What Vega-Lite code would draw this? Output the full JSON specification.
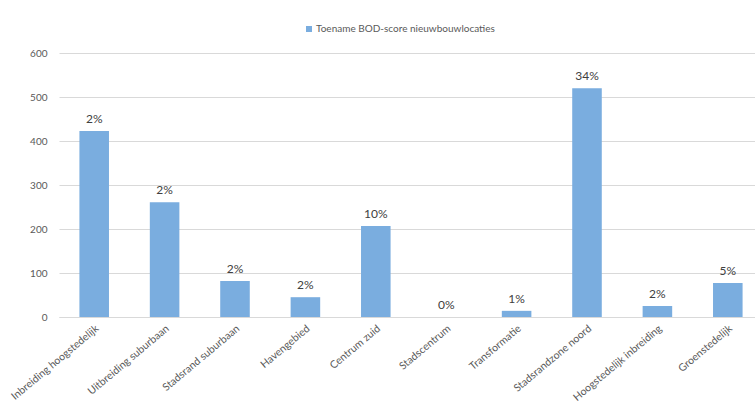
{
  "$schema": "https://vega.github.io/schema/vega-lite/v6.json",
  "autosize": "none",
  "width": 696,
  "height": 264,
  "padding": {"left": 59, "top": 53, "right": 0, "bottom": 96},
  "background": "white",
  "config": {"view": {"stroke": null}, "font": "Lato"},
  "data": {
    "values": [
      {"locatie": "Inbreiding hoogstedelijk", "waarde": 423, "pct": "2%"},
      {"locatie": "Uitbreiding suburbaan", "waarde": 261, "pct": "2%"},
      {"locatie": "Stadsrand suburbaan", "waarde": 82, "pct": "2%"},
      {"locatie": "Havengebied", "waarde": 45, "pct": "2%"},
      {"locatie": "Centrum zuid", "waarde": 207, "pct": "10%"},
      {"locatie": "Stadscentrum", "waarde": 0, "pct": "0%"},
      {"locatie": "Transformatie", "waarde": 14, "pct": "1%"},
      {"locatie": "Stadsrandzone noord", "waarde": 520, "pct": "34%"},
      {"locatie": "Hoogstedelijk inbreiding", "waarde": 25, "pct": "2%"},
      {"locatie": "Groenstedelijk", "waarde": 77, "pct": "5%"}
    ]
  },
  "encoding": {
    "x": {
      "field": "locatie",
      "type": "nominal",
      "sort": null,
      "scale": {"range": [0, 704], "paddingInner": 0.58, "paddingOuter": 0.29},
      "axis": {
        "title": null,
        "labelAngle": -40,
        "labelFontSize": 10.5,
        "labelColor": "#595959",
        "labelPadding": 6,
        "ticks": false,
        "domainColor": "#d9d9d9",
        "grid": false
      }
    }
  },
  "layer": [
    {
      "mark": {"type": "bar"},
      "encoding": {
        "y": {
          "field": "waarde",
          "type": "quantitative",
          "scale": {"domain": [0, 600], "nice": false},
          "axis": {
            "title": null,
            "values": [0, 100, 200, 300, 400, 500, 600],
            "labelFontSize": 10,
            "labelColor": "#595959",
            "labelPadding": 12,
            "ticks": false,
            "domain": false,
            "gridColor": "#d9d9d9"
          }
        },
        "color": {
          "datum": "Toename BOD-score nieuwbouwlocaties",
          "type": "nominal",
          "scale": {"range": ["#7aaddf"]},
          "legend": {
            "title": null,
            "orient": "none",
            "legendX": 245,
            "legendY": -29,
            "symbolType": "square",
            "symbolSize": 36,
            "symbolStrokeWidth": 0,
            "labelFontSize": 10,
            "labelLimit": 400,
            "labelColor": "#595959",
            "labelOffset": 2
          }
        }
      }
    },
    {
      "mark": {"type": "text", "dy": -8, "fontSize": 12, "color": "#404040", "baseline": "alphabetic"},
      "encoding": {
        "y": {"field": "waarde", "type": "quantitative"},
        "text": {"field": "pct"}
      }
    }
  ]
}
